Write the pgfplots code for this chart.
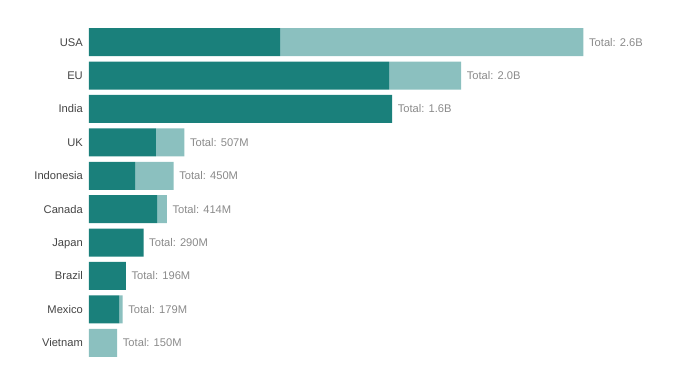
\documentclass[border=0pt]{standalone}
\usepackage{fontspec}
\setmainfont{Liberation Sans}
\usepackage{pgfplots}
\pgfplotsset{compat=1.18}
\definecolor{darkteal}{HTML}{1A807B}
\definecolor{lightteal}{HTML}{8BC0BF}
\definecolor{labcol}{HTML}{444444}
\definecolor{totcol}{HTML}{8A8A8A}
\pgfplotsset{common/.style={
  at={(0,0)}, anchor=south west,
  scale only axis, width=564bp, height=334bp,
  xmin=0, xmax=3000, ymin=-0.5, ymax=9.5, clip=false}}
\begin{document}
\fontsize{11.2}{13}\selectfont
\begin{tikzpicture}
\useasboundingbox (-89bp,-27.5bp) rectangle (601bp,359.5bp);
\begin{axis}[
  common,
  xbar stacked, bar width=28bp,
  axis line style={draw=none}, tick style={draw=none},
  xtick=\empty,
  ytick={0,...,9},
  yticklabels={Vietnam,Mexico,Brazil,Japan,Canada,Indonesia,UK,India,EU,USA},
  yticklabel style={font=\fontsize{11.2}{13}\selectfont, text=labcol, inner sep=0pt, xshift=-6bp, text height=8bp, text depth=0pt},
]
\addplot[fill=darkteal, draw=none] coordinates {
 (1016,9) (1596,8) (1612,7) (356,6) (245,5) (362,4) (290,3) (196,2) (161,1) (0,0)};
\addplot[fill=lightteal, draw=none] coordinates {
 (1614,9) (383,8) (0,7) (151,6) (205,5) (52,4) (0,3) (0,2) (18,1) (150,0)};
\end{axis}
\begin{axis}[common, hide axis]
\addplot[only marks, mark=none,
  nodes near coords, point meta=explicit symbolic,
  nodes near coords style={anchor=west, inner sep=0pt, xshift=5.5bp, text=totcol, font=\fontsize{11.2}{13}\selectfont, text height=8bp, text depth=0pt}] coordinates {
 (2630,9) [Total: 2.6B]
 (1979,8) [Total: 2.0B]
 (1612,7) [Total: 1.6B]
 (507,6) [Total: 507M]
 (450,5) [Total: 450M]
 (414,4) [Total: 414M]
 (290,3) [Total: 290M]
 (196,2) [Total: 196M]
 (179,1) [Total: 179M]
 (150,0) [Total: 150M]};
\end{axis}
\end{tikzpicture}
\end{document}
